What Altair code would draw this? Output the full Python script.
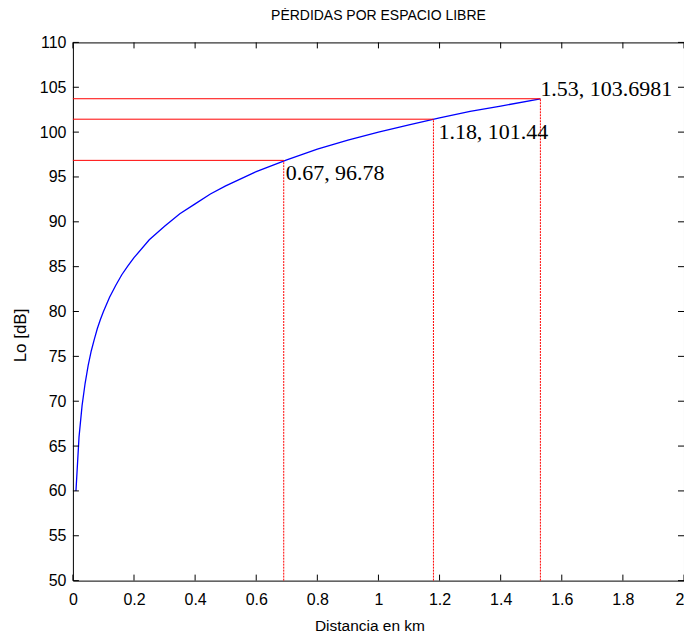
import altair as alt
import pandas as pd

# curve: distance (km) vs loss (dB)
dist = [0.01, 0.02, 0.03, 0.04, 0.05, 0.06, 0.07, 0.08, 0.09, 0.10,
        0.12, 0.14, 0.16, 0.18, 0.20, 0.25, 0.30, 0.35, 0.40, 0.45,
        0.50, 0.60, 0.70, 0.80, 0.90, 1.00, 1.10, 1.20, 1.30, 1.40, 1.53]
loss = [60.0, 66.0, 69.5, 72.0, 74.0, 75.6, 76.9, 78.1, 79.1, 80.0,
        81.6, 82.9, 84.1, 85.1, 86.0, 88.0, 89.5, 90.9, 92.0, 93.1,
        94.0, 95.6, 96.9, 98.1, 99.1, 100.0, 100.8, 101.6, 102.3, 102.9, 103.7]

# marked points (red guide lines) and their labels
mark_x = [0.69, 1.18, 1.53]
mark_y = [96.85, 101.44, 103.72]
mark_label = ["0.67, 96.78", "1.18, 101.44", "1.53, 103.6981"]
label_dx = [2, 5, 0]
label_dy = [13, 13, -10]

x_ticks = [0, 0.2, 0.4, 0.6, 0.8, 1, 1.2, 1.4, 1.6, 1.8, 2]
y_ticks = [50, 55, 60, 65, 70, 75, 80, 85, 90, 95, 100, 105, 110]

title_text = ["PÉRDIDAS POR ESPACIO LIBRE"]

W, H = 612, 539
SANS = "Liberation Sans"

curve_df = pd.DataFrame({"d": dist, "L": loss})
marks_df = pd.DataFrame({"x": mark_x, "y": mark_y, "x0": [0] * 3, "y0": [50] * 3,
                         "label": mark_label})
xt_df = pd.DataFrame({"t": x_ticks})
yt_df = pd.DataFrame({"t": y_ticks})
title_df = pd.DataFrame({"title": title_text})

xscale = alt.Scale(domain=[0, 2], nice=False, zero=False)
yscale = alt.Scale(domain=[50, 110], nice=False, zero=False)

xaxis = alt.Axis(values=x_ticks, format="~g", title="Distancia en km",
                 labelAlign={"condition": {"test": "datum.value == 2", "value": "right"},
                             "value": "center"})
yaxis = alt.Axis(values=y_ticks, format="d", title="Lo [dB]", titleFontSize=17,
                 titleX=-47, titleY=293, titleAngle=270, titleAlign="center",
                 titleBaseline="alphabetic")

X = lambda f: alt.X(f, scale=xscale, axis=xaxis)
Y = lambda f: alt.Y(f, scale=yscale, axis=yaxis)

curve = alt.Chart(curve_df).mark_line(color="#0000ff", strokeWidth=1.3, clip=True).encode(
    x=X("d:Q"), y=Y("L:Q"))

hlines = alt.Chart(marks_df).mark_rule(color="#ff0000", strokeWidth=1).encode(
    x=X("x0:Q"), x2="x:Q", y=Y("y:Q"))
vlines = alt.Chart(marks_df).mark_rule(color="#ff0000", strokeWidth=1,
                                       strokeDash=[2, 1]).encode(
    x=X("x:Q"), y=Y("y0:Q"), y2="y:Q")

texts = []
for i in range(3):
    texts.append(
        alt.Chart(marks_df.iloc[[i]]).mark_text(
            font="Liberation Serif", fontSize=22, align="left", baseline="middle",
            dx=label_dx[i], dy=label_dy[i], color="black"
        ).encode(x=X("x:Q"), y=Y("y:Q"), text="label:N")
    )

TL = 6
tick_bottom = alt.Chart(xt_df).mark_rule(color="black").encode(
    x=X("t:Q"), y=alt.value(H), y2=alt.value(H - TL))
tick_top = alt.Chart(xt_df).mark_rule(color="black").encode(
    x=X("t:Q"), y=alt.value(0), y2=alt.value(TL))
tick_left = alt.Chart(yt_df).mark_rule(color="black").encode(
    y=Y("t:Q"), x=alt.value(0), x2=alt.value(TL))
tick_right = alt.Chart(yt_df).mark_rule(color="black").encode(
    y=Y("t:Q"), x=alt.value(W), x2=alt.value(W - TL))

title_mark = alt.Chart(title_df).mark_text(
    font=SANS, fontSize=14, align="center", baseline="alphabetic", color="black"
).encode(x=alt.value(W / 2), y=alt.value(-22), text="title:N")

chart = alt.layer(
    curve, tick_bottom, tick_top, tick_left, tick_right, hlines, vlines, *texts,
    title_mark
).properties(
    width=W, height=H,
    autosize=alt.AutoSizeParams(type="none"),
    padding={"left": 65, "top": 34, "right": 0, "bottom": 52},
    background="white",
).configure_view(
    stroke="black", strokeWidth=1
).configure_axis(
    grid=False, domain=False, ticks=False, labelFont=SANS, labelFontSize=16,
    labelColor="black", titleFont=SANS, titleFontSize=15.5, titleFontWeight="normal",
    titleColor="black", labelFlush=False
).configure_axisX(
    labelPadding=11, titleBaseline="alphabetic", titleY=50, titleX=297,
    titleAlign="center"
).configure_axisY(
    labelPadding=7
)

chart.save("out.html", embed_options={"renderer": "svg", "actions": False})
